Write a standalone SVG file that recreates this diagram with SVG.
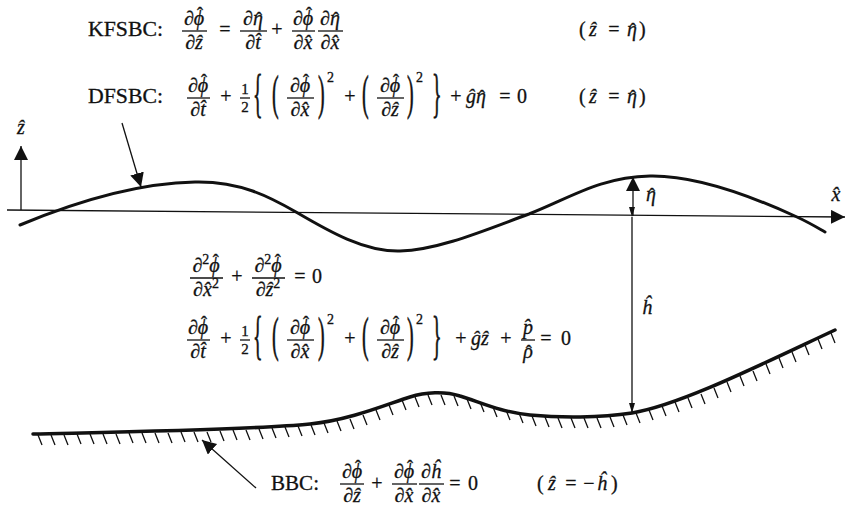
<svg xmlns="http://www.w3.org/2000/svg" width="846" height="506" viewBox="0 0 846 506">
<style>
text{font-family:"Liberation Serif","DejaVu Serif",serif;font-size:20px;fill:#111;stroke:#111;stroke-width:0.3}
.m{font-style:italic;text-anchor:middle}
.r{text-anchor:middle}
.sup{font-size:14px}
.half{font-size:15px;text-anchor:middle}
.hat{font-size:18px;font-style:normal}
.bar{stroke:#111;stroke-width:1.3}
.ln{stroke:#111;stroke-width:1.3;fill:none}
.thick{stroke:#111;fill:none;stroke-linecap:round}
</style>
<defs>
<marker id="ah" markerUnits="userSpaceOnUse" markerWidth="16" markerHeight="16" refX="14" refY="7" orient="auto"><path d="M0,0 L14,7 L0,14 z" fill="#111"/></marker>
<marker id="as" markerUnits="userSpaceOnUse" markerWidth="12" markerHeight="8" refX="10" refY="3" orient="auto"><path d="M0,0 L10,3 L0,6 z" fill="#111"/></marker>
</defs>
<rect width="846" height="506" fill="#fff"/>

<g id="axes">
<line class="ln" x1="21" y1="210" x2="21" y2="146" marker-end="url(#ah)"/>
<text class="m" x="21" y="134">&#x1E91;</text>
<line class="ln" x1="7" y1="210" x2="845" y2="217" marker-end="url(#ah)"/>
<text class="m" x="836" y="201">x&#x302;</text>
</g>

<g id="free-surface">
<path class="thick" stroke-width="3" d="M20 225 C80 200 140 183 195 182 C240 181 270 197 296 212 C330 232 365 252 400 251 C440 250 490 228 529 214 C570 198 600 177 650 176 C700 175 760 200 797 217 C810 223 818 228 825 232"/>
</g>

<g id="bottom">
<path class="thick" stroke-width="3.5" d="M33 434 C120 432 250 430 310 424 C350 420 385 405 410 397 C425 392 445 391 460 396 C480 402 500 412 530 415 C560 418 600 418 632 413 C680 405 760 365 835 330"/>
<path class="ln" stroke-width="1.6" d="M38 435 l4 10 M51 435 l4 10 M64 435 l4 10 M77 434 l4 10 M90 434 l4 10 M103 434 l4 10 M116 434 l4 10 M129 433 l4 10 M142 433 l4 10 M155 433 l4 10 M168 433 l4 10 M181 432 l4 10 M194 432 l4 10 M207 432 l4 10 M220 431 l4 10 M233 430 l4 10 M246 430 l4 10 M259 429 l4 10 M272 428 l4 10 M285 427 l4 10 M298 426 l4 10 M311 425 l4 10 M324 423 l4 10 M337 421 l4 10 M350 419 l4 10 M363 415 l4 10 M376 410 l4 10 M389 405 l4 10 M402 400 l4 10 M415 397 l4 10 M428 395 l4 10 M441 395 l4 10 M454 396 l4 10 M467 399 l4 10 M480 402 l4 10 M493 407 l4 10 M506 410 l4 10 M519 413 l4 10 M532 416 l4 10 M545 417 l4 10 M558 418 l4 10 M571 418 l4 10 M584 418 l4 10 M597 418 l4 10 M610 417 l4 10 M623 415 l4 10 M636 413 l4 10 M649 410 l4 10 M662 406 l4 10 M675 402 l4 10 M688 398 l4 10 M701 394 l4 10 M714 388 l4 10 M727 382 l4 10 M740 376 l4 10 M753 371 l4 10 M766 364 l4 10 M779 358 l4 10 M792 352 l4 10 M805 345 l4 10 M818 339 l4 10 M831 333 l4 10"/>
</g>

<g id="connectors">
<line class="ln" x1="122" y1="123" x2="141" y2="187" marker-end="url(#ah)"/>
<line class="ln" x1="256" y1="488" x2="202" y2="440" marker-end="url(#ah)"/>
<line class="ln" x1="633" y1="216" x2="633" y2="177" marker-end="url(#ah)"/>
<line class="ln" stroke-width="1.1" x1="632" y1="217" x2="632" y2="413" marker-start="url(#as)" marker-end="url(#as)"/>
</g>

<g id="label-eta">
<text class="m" x="651" y="201">&#x3B7;<tspan class="hat" dx="-7">&#x2C6;</tspan></text>
</g>
<g id="label-h">
<text class="m" x="647" y="314">&#x125;</text>
</g>

<g id="kfsbc">
<text x="88" y="36" textLength="75" lengthAdjust="spacingAndGlyphs">KFSBC:</text>
<text class="m" x="194" y="25">&#x2202;&#x3D5;<tspan class="hat" dx="-7" dy="-5.5">&#x2C6;</tspan></text><line class="bar" x1="182" y1="31" x2="207" y2="31"/><text class="m" x="194" y="49">&#x2202;&#x1E91;</text>
<text class="r" x="225" y="36">=</text>
<text class="m" x="253" y="25">&#x2202;&#x3B7;<tspan class="hat" dx="-7">&#x2C6;</tspan></text><line class="bar" x1="240" y1="31" x2="267" y2="31"/><text class="m" x="253" y="49">&#x2202;t&#x302;</text>
<text class="r" x="277" y="36">+</text>
<text class="m" x="303" y="25">&#x2202;&#x3D5;<tspan class="hat" dx="-7" dy="-5.5">&#x2C6;</tspan></text><line class="bar" x1="292" y1="31" x2="315" y2="31"/><text class="m" x="303" y="49">&#x2202;x&#x302;</text>
<text class="m" x="330" y="25">&#x2202;&#x3B7;<tspan class="hat" dx="-7">&#x2C6;</tspan></text><line class="bar" x1="318" y1="31" x2="343" y2="31"/><text class="m" x="330" y="49">&#x2202;x&#x302;</text>
<text x="579" y="36">(</text><text class="m" x="593" y="36">&#x1E91;</text><text class="r" x="614" y="36">=</text><text class="m" x="632" y="36">&#x3B7;<tspan class="hat" dx="-7">&#x2C6;</tspan></text><text x="639" y="36">)</text>
</g>

<g id="dfsbc">
<text x="88" y="103" textLength="75" lengthAdjust="spacingAndGlyphs">DFSBC:</text>
<text class="m" x="198" y="92">&#x2202;&#x3D5;<tspan class="hat" dx="-7" dy="-5.5">&#x2C6;</tspan></text><line class="bar" x1="187" y1="98" x2="210" y2="98"/><text class="m" x="198" y="116">&#x2202;t&#x302;</text>
<text class="r" x="226" y="103">+</text>
<text class="half" x="245" y="94">1</text><line class="bar" x1="240" y1="98" x2="250" y2="98"/><text class="half" x="245" y="112">2</text>
<text transform="translate(253,111) scale(1,2.6)">{</text>
<text transform="translate(272,109) scale(1,2.4)">(</text>
<text class="m" x="300" y="92">&#x2202;&#x3D5;<tspan class="hat" dx="-7" dy="-5.5">&#x2C6;</tspan></text><line class="bar" x1="287" y1="98" x2="314" y2="98"/><text class="m" x="300" y="116">&#x2202;x&#x302;</text>
<text transform="translate(318,109) scale(1,2.4)">)</text>
<text class="sup" x="327" y="82">2</text>
<text class="r" x="350" y="103">+</text>
<text transform="translate(362,109) scale(1,2.4)">(</text>
<text class="m" x="390" y="92">&#x2202;&#x3D5;<tspan class="hat" dx="-7" dy="-5.5">&#x2C6;</tspan></text><line class="bar" x1="377" y1="98" x2="404" y2="98"/><text class="m" x="390" y="116">&#x2202;&#x1E91;</text>
<text transform="translate(407,109) scale(1,2.4)">)</text>
<text class="sup" x="416" y="82">2</text>
<text transform="translate(432,111) scale(1,2.6)">}</text>
<text class="r" x="456" y="103">+</text>
<text x="466" y="103" font-style="italic">&#x11D;&#x3B7;<tspan class="hat" dx="-7">&#x2C6;</tspan></text>
<text class="r" x="505" y="103">=</text>
<text class="r" x="522" y="103">0</text>
<text x="579" y="103">(</text><text class="m" x="593" y="103">&#x1E91;</text><text class="r" x="614" y="103">=</text><text class="m" x="632" y="103">&#x3B7;<tspan class="hat" dx="-7">&#x2C6;</tspan></text><text x="639" y="103">)</text>
</g>

<g id="laplace">
<text class="m" x="206" y="272">&#x2202;<tspan class="sup" dy="-8" font-style="normal">2</tspan><tspan dy="8">&#x3D5;</tspan><tspan class="hat" dx="-7" dy="-5.5">&#x2C6;</tspan></text><line class="bar" x1="190" y1="278" x2="223" y2="278"/><text class="m" x="206" y="296">&#x2202;x&#x302;<tspan class="sup" dy="-8" font-style="normal">2</tspan></text>
<text class="r" x="237" y="283">+</text>
<text class="m" x="268" y="272">&#x2202;<tspan class="sup" dy="-8" font-style="normal">2</tspan><tspan dy="8">&#x3D5;</tspan><tspan class="hat" dx="-7" dy="-5.5">&#x2C6;</tspan></text><line class="bar" x1="252" y1="278" x2="285" y2="278"/><text class="m" x="268" y="296">&#x2202;&#x1E91;<tspan class="sup" dy="-8" font-style="normal">2</tspan></text>
<text class="r" x="300" y="283">=</text>
<text class="r" x="317" y="283">0</text>
</g>

<g id="bernoulli">
<text class="m" x="198" y="334">&#x2202;&#x3D5;<tspan class="hat" dx="-7" dy="-5.5">&#x2C6;</tspan></text><line class="bar" x1="187" y1="340" x2="210" y2="340"/><text class="m" x="198" y="358">&#x2202;t&#x302;</text>
<text class="r" x="226" y="345">+</text>
<text class="half" x="245" y="336">1</text><line class="bar" x1="240" y1="340" x2="250" y2="340"/><text class="half" x="245" y="354">2</text>
<text transform="translate(253,353) scale(1,2.6)">{</text>
<text transform="translate(272,351) scale(1,2.4)">(</text>
<text class="m" x="300" y="334">&#x2202;&#x3D5;<tspan class="hat" dx="-7" dy="-5.5">&#x2C6;</tspan></text><line class="bar" x1="287" y1="340" x2="314" y2="340"/><text class="m" x="300" y="358">&#x2202;x&#x302;</text>
<text transform="translate(318,351) scale(1,2.4)">)</text>
<text class="sup" x="327" y="324">2</text>
<text class="r" x="350" y="345">+</text>
<text transform="translate(362,351) scale(1,2.4)">(</text>
<text class="m" x="390" y="334">&#x2202;&#x3D5;<tspan class="hat" dx="-7" dy="-5.5">&#x2C6;</tspan></text><line class="bar" x1="377" y1="340" x2="404" y2="340"/><text class="m" x="390" y="358">&#x2202;&#x1E91;</text>
<text transform="translate(407,351) scale(1,2.4)">)</text>
<text class="sup" x="416" y="324">2</text>
<text transform="translate(432,353) scale(1,2.6)">}</text>
<text class="r" x="461" y="345">+</text>
<text x="471" y="345" font-style="italic">&#x11D;&#x1E91;</text>
<text class="r" x="506" y="345">+</text>
<text class="m" x="528" y="334">p&#x302;</text><line class="bar" x1="521" y1="340" x2="535" y2="340"/><text class="m" x="528" y="358">&#x3C1;<tspan class="hat" dx="-7">&#x2C6;</tspan></text>
<text class="r" x="546" y="345">=</text>
<text class="r" x="566" y="345">0</text>
</g>

<g id="bbc">
<text x="271" y="490" textLength="48" lengthAdjust="spacingAndGlyphs">BBC:</text>
<text class="m" x="352" y="478">&#x2202;&#x3D5;<tspan class="hat" dx="-7" dy="-5.5">&#x2C6;</tspan></text><line class="bar" x1="340" y1="484" x2="364" y2="484"/><text class="m" x="352" y="502">&#x2202;&#x1E91;</text>
<text class="r" x="377" y="490">+</text>
<text class="m" x="404" y="478">&#x2202;&#x3D5;<tspan class="hat" dx="-7" dy="-5.5">&#x2C6;</tspan></text><line class="bar" x1="392" y1="484" x2="417" y2="484"/><text class="m" x="404" y="502">&#x2202;x&#x302;</text>
<text class="m" x="431" y="478">&#x2202;&#x125;</text><line class="bar" x1="419" y1="484" x2="444" y2="484"/><text class="m" x="431" y="502">&#x2202;x&#x302;</text>
<text class="r" x="455" y="490">=</text>
<text class="r" x="473" y="490">0</text>
<text x="537" y="490">(</text><text class="m" x="552" y="490">&#x1E91;</text><text class="r" x="571" y="490">=</text><text class="r" x="589" y="490">&#x2212;</text><text class="m" x="602" y="490">&#x125;</text><text x="611" y="490">)</text>
</g>
</svg>
